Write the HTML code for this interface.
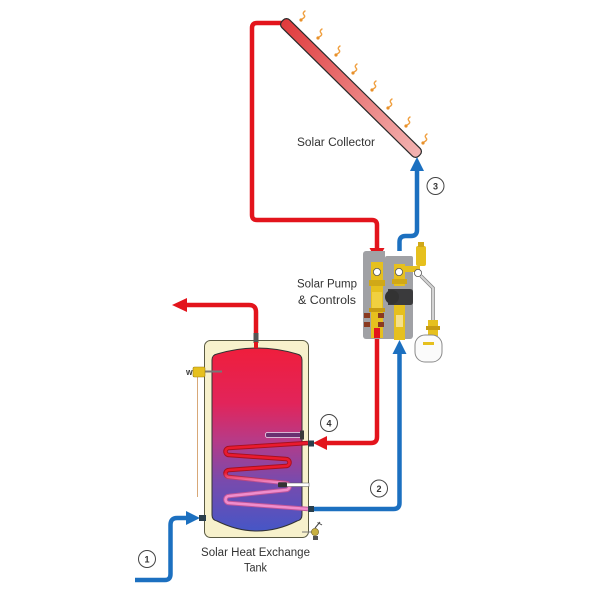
<!DOCTYPE html>
<html><head><meta charset="utf-8"><style>
html,body{margin:0;padding:0;background:#fff;}
svg{display:block;}
text{font-family:"Liberation Sans",sans-serif;fill:#333;}
</style></head><body>
<svg width="600" height="600" viewBox="0 0 600 600" xmlns="http://www.w3.org/2000/svg">
<defs>
<linearGradient id="tg" x1="0" y1="0" x2="0" y2="1">
<stop offset="0" stop-color="#ef1e3c"/>
<stop offset="0.3" stop-color="#e2245a"/>
<stop offset="0.5" stop-color="#b83a86"/>
<stop offset="0.72" stop-color="#7a4aac"/>
<stop offset="1" stop-color="#4656c6"/>
</linearGradient>
<linearGradient id="cg" x1="0" y1="0" x2="1" y2="0">
<stop offset="0" stop-color="#e03a3c"/>
<stop offset="1" stop-color="#f2b4b2"/>
</linearGradient>
<linearGradient id="coilO" gradientUnits="userSpaceOnUse" x1="0" y1="443" x2="0" y2="509">
<stop offset="0" stop-color="#a80f1e"/>
<stop offset="0.45" stop-color="#a80f1e"/>
<stop offset="0.6" stop-color="#c0559a"/>
<stop offset="1" stop-color="#c0559a"/>
</linearGradient>
<linearGradient id="coilI" gradientUnits="userSpaceOnUse" x1="0" y1="443" x2="0" y2="509">
<stop offset="0" stop-color="#ea1a2e"/>
<stop offset="0.45" stop-color="#ea1a2e"/>
<stop offset="0.6" stop-color="#f08ccb"/>
<stop offset="1" stop-color="#f08ccb"/>
</linearGradient>
</defs>

<!-- Collector pipes -->
<g fill="none" stroke-width="4.5" stroke-linecap="butt">
<path d="M286,23 H257 Q252,23 252,28 V215 Q252,220 257,220 H372 Q377,220 377,225 V250" stroke="#e3141c"/>
<path d="M399.5,264 V242 Q399.5,236 405.5,236 H411 Q417,236 417,230 V170" stroke="#1c70c0"/>
<path d="M377,336 V437 Q377,443 371,443 H326" stroke="#e3141c"/>
<path d="M309,509 H393.5 Q399.5,509 399.5,503 V353" stroke="#1c70c0"/>
<path d="M135,580 H165 Q170.5,580 170.5,574 V525 Q170.5,518 177,518 H188" stroke="#1c70c0"/>
<path d="M256,341 V312 Q256,305 249,305 H186" stroke="#e3141c"/>
</g>
<!-- Arrowheads -->
<polygon points="369.5,248 384.5,248 377,262" fill="#e3141c"/>
<polygon points="410,171 424,171 417,157" fill="#1c70c0"/>
<polygon points="327,436 327,450 313,443" fill="#e3141c"/>
<polygon points="392.5,354 406.5,354 399.5,340" fill="#1c70c0"/>
<polygon points="186,511 186,525 200,518" fill="#1c70c0"/>
<polygon points="187,298 187,312 172,305" fill="#e3141c"/>

<!-- Collector -->
<rect x="-96" y="-5.5" width="192" height="11" rx="4.5" fill="url(#cg)" stroke="#2a2a2a" stroke-width="1.2" transform="translate(351,88) rotate(44.55)"/>

<!-- Sun rays -->
<g fill="none" stroke="#f0a040" stroke-width="1.4" stroke-linecap="round">
<path d="M305,11 q-3,2 -1,4 q2,2 -2,4"/>
<path d="M322,29 q-3,2 -1,4 q2,2 -2,4"/>
<path d="M340,46 q-3,2 -1,4 q2,2 -2,4"/>
<path d="M357,64 q-3,2 -1,4 q2,2 -2,4"/>
<path d="M376,81 q-3,2 -1,4 q2,2 -2,4"/>
<path d="M392,99 q-3,2 -1,4 q2,2 -2,4"/>
<path d="M410,117 q-3,2 -1,4 q2,2 -2,4"/>
<path d="M427,134 q-3,2 -1,4 q2,2 -2,4"/>
</g>
<g fill="#e8902a">
<circle cx="301" cy="20" r="1.6"/><circle cx="318" cy="38" r="1.6"/><circle cx="336" cy="55" r="1.6"/><circle cx="353" cy="73" r="1.6"/>
<circle cx="372" cy="90" r="1.6"/><circle cx="388" cy="108" r="1.6"/><circle cx="406" cy="126" r="1.6"/><circle cx="423" cy="143" r="1.6"/>
</g>

<!-- Pump station -->
<rect x="363" y="251" width="50" height="88" rx="3" fill="#a0a1a5"/>
<rect x="385" y="251" width="28" height="8" fill="#fff"/>
<rect x="385" y="256" width="28" height="6" rx="2" fill="#a0a1a5"/>
<!-- left column -->
<rect x="371" y="262" width="12" height="76" fill="#e6c01e"/>
<rect x="369" y="280" width="16" height="6" fill="#d0a818"/>
<rect x="372" y="292" width="10" height="16" fill="#f0d040"/>
<rect x="369" y="308" width="16" height="4" fill="#c89c12"/>
<rect x="364" y="313" width="6" height="5" fill="#8a3a20"/>
<rect x="364" y="322" width="6" height="5" fill="#8a3a20"/>
<rect x="378" y="313" width="6" height="5" fill="#8a3a20"/>
<rect x="378" y="322" width="6" height="5" fill="#8a3a20"/>
<rect x="374" y="328" width="6" height="10" fill="#e3141c"/>
<circle cx="377" cy="272" r="3.6" fill="#fff" stroke="#555" stroke-width="0.8"/>
<!-- middle -->
<rect x="394" y="264" width="11" height="22" fill="#e6c01e"/>
<rect x="392" y="279" width="15" height="5" fill="#d0a818"/>
<circle cx="399" cy="272" r="3.6" fill="#fff" stroke="#555" stroke-width="0.8"/>
<path d="M388,289 h22 q3,0 3,3 v10 q0,3 -3,3 h-22 z" fill="#3a3a3c"/>
<circle cx="392" cy="297" r="7" fill="#333"/>
<rect x="394" y="305" width="11" height="35" fill="#e6c01e"/>
<rect x="396" y="315" width="7" height="12" fill="#f5e08a"/>
<!-- right fittings -->
<rect x="405" y="266" width="15" height="6" fill="#e6c01e"/>
<rect x="416" y="246" width="10" height="20" rx="2" fill="#e6c01e"/>
<rect x="418" y="242" width="6" height="5" fill="#d0a818"/>
<circle cx="418" cy="273" r="3.6" fill="#fff" stroke="#555" stroke-width="0.8"/>
<path d="M421,276 L433,288 V322" fill="none" stroke="#888" stroke-width="3.6"/>
<path d="M421,276 L433,288 V322" fill="none" stroke="#d4d4d4" stroke-width="2"/>
<rect x="428" y="320" width="10" height="16" fill="#e6c01e"/>
<rect x="426" y="326" width="14" height="4" fill="#c89c12"/>
<rect x="415" y="335" width="27" height="27" rx="10" fill="#fbfbfb" stroke="#8a8a8a" stroke-width="1"/>
<rect x="423" y="342" width="11" height="3" fill="#e6c01e"/>

<!-- Tank -->
<rect x="204.5" y="340.5" width="104" height="197" rx="6" fill="#f7f1cc" stroke="#5a5a42" stroke-width="1"/>
<path d="M212,360 Q212,355 217,354 Q257,342 297,354 Q302,355 302,360 V515 Q302,520 297,521 Q257,541 217,521 Q212,520 212,515 Z" fill="url(#tg)" stroke="#333" stroke-width="1"/>
<rect x="253.5" y="333" width="5" height="10" fill="#555"/>
<path d="M256,348 V342" stroke="#e3141c" stroke-width="4"/>

<!-- Coil -->
<path d="M308,443 L229,448 A3.5,3.5 0 0 0 229,455 L286,459 A3.5,3.5 0 0 1 286,466 L229,470 A3.5,3.5 0 0 0 229,477 L286,483 A3.5,3.5 0 0 1 286,490 L229,496 A3.5,3.5 0 0 0 229,503 L308,509" fill="none" stroke="url(#coilO)" stroke-width="4.5" stroke-linejoin="round"/>
<path d="M308,443 L229,448 A3.5,3.5 0 0 0 229,455 L286,459 A3.5,3.5 0 0 1 286,466 L229,470 A3.5,3.5 0 0 0 229,477 L286,483 A3.5,3.5 0 0 1 286,490 L229,496 A3.5,3.5 0 0 0 229,503 L308,509" fill="none" stroke="url(#coilI)" stroke-width="2.6" stroke-linejoin="round"/>

<!-- Sensor pockets -->
<rect x="265.5" y="432.5" width="36" height="5" rx="2" fill="#6a3070" stroke="#f0e0f0" stroke-width="0.8"/>
<rect x="300" y="430.5" width="4" height="9" fill="#3a3a3a"/>
<rect x="286" y="483" width="23" height="3.5" fill="#fff" stroke="#555" stroke-width="0.5"/>
<rect x="278" y="482.3" width="9" height="5" rx="1" fill="#333"/>

<!-- Fittings -->
<rect x="308" y="440.5" width="6" height="6" fill="#2a3f4c"/>
<rect x="308" y="506" width="6" height="6" fill="#2a3f4c"/>
<rect x="199" y="515" width="7" height="6" fill="#2a3f4c"/>

<!-- W valve -->
<line x1="197.5" y1="377" x2="197.5" y2="497" stroke="#d8a878" stroke-width="1"/>
<line x1="204" y1="371.5" x2="222" y2="371.5" stroke="#777" stroke-width="2"/>
<rect x="193" y="367" width="12" height="10" rx="1.5" fill="#e6c01e" stroke="#a08010" stroke-width="0.6"/>
<text x="186" y="375" font-size="7" font-weight="bold">W</text>

<!-- Drain valve -->
<line x1="302" y1="532" x2="313" y2="532" stroke="#777" stroke-width="1"/>
<circle cx="315" cy="532" r="3.6" fill="#c8b040" stroke="#6a5a20" stroke-width="0.6"/>
<line x1="315" y1="528" x2="320" y2="522" stroke="#444" stroke-width="1"/>
<line x1="317.5" y1="522.5" x2="322" y2="525" stroke="#444" stroke-width="1"/>
<rect x="313" y="536" width="5" height="4" fill="#555"/>

<!-- Number circles -->
<g fill="#fff" stroke="#444" stroke-width="1">
<circle cx="147" cy="559" r="8.5"/>
<circle cx="379" cy="488.5" r="8.5"/>
<circle cx="435.5" cy="186" r="8.5"/>
<circle cx="329" cy="423" r="8.5"/>
</g>
<g font-size="9" font-weight="bold" text-anchor="middle">
<text x="147" y="562.3">1</text>
<text x="379" y="491.8">2</text>
<text x="435.5" y="189.3">3</text>
<text x="329" y="426.3">4</text>
</g>

<!-- Labels -->
<g font-size="11.5" text-anchor="middle">
<text x="336" y="146" textLength="78" lengthAdjust="spacingAndGlyphs">Solar Collector</text>
<text x="327" y="287.5" textLength="60" lengthAdjust="spacingAndGlyphs">Solar Pump</text>
<text x="327" y="304" textLength="58" lengthAdjust="spacingAndGlyphs">&amp; Controls</text>
<text x="255.5" y="556" textLength="109" lengthAdjust="spacingAndGlyphs">Solar Heat Exchange</text>
<text x="255.5" y="571.5" textLength="23" lengthAdjust="spacingAndGlyphs">Tank</text>
</g>
</svg>
</body></html>
